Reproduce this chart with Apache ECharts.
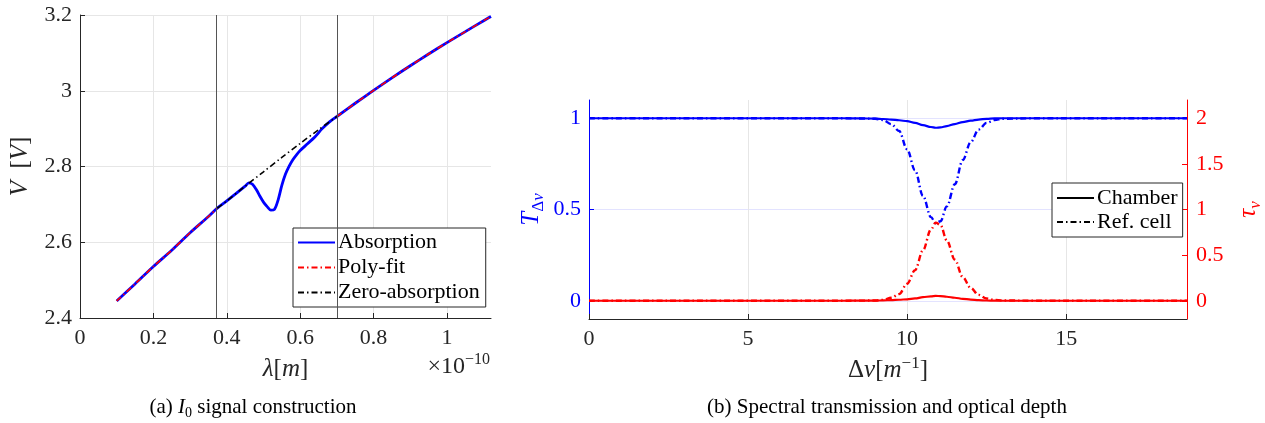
<!DOCTYPE html>
<html>
<head>
<meta charset="utf-8">
<script src="https://cdn.jsdelivr.net/npm/echarts@6.0.0/dist/echarts.min.js"></script>
<style>
  html, body { margin: 0; padding: 0; background: #fff; }
  #chart { width: 1265px; height: 423px; }
</style>
</head>
<body>
<div id="chart"></div>
<script>
// ---------- (a) I0 signal construction ----------
// wavelength in units of 1e-10 m, detector voltage in V
const lambda = [0.10, 0.15, 0.20, 0.25, 0.30, 0.35, 0.374, 0.40, 0.45,
  0.46, 0.47, 0.48, 0.49, 0.50, 0.51, 0.52, 0.53, 0.54, 0.55, 0.56, 0.57, 0.58, 0.59, 0.60,
  0.62, 0.64, 0.66, 0.68, 0.70, 0.75, 0.80, 0.85, 0.90, 0.95, 1.00, 1.05, 1.10, 1.12];
const absorptionV = [2.445, 2.490, 2.536, 2.579, 2.625, 2.668, 2.690, 2.709, 2.748,
  2.757, 2.753, 2.740, 2.722, 2.706, 2.694, 2.685, 2.687, 2.712, 2.750, 2.780, 2.801, 2.818, 2.831, 2.842,
  2.860, 2.878, 2.900, 2.918, 2.932, 2.967, 3.001, 3.034, 3.066, 3.097, 3.127, 3.156, 3.185, 3.196];

// polynomial fit, evaluated on the samples outside the absorption window
const fitLambdaLow = [0.10, 0.15, 0.20, 0.25, 0.30, 0.35, 0.374];
const fitVLow = [2.445, 2.490, 2.536, 2.579, 2.625, 2.668, 2.690];
const fitLambdaHigh = [0.70, 0.75, 0.80, 0.85, 0.90, 0.95, 1.00, 1.05, 1.10, 1.12];
const fitVHigh = [2.932, 2.967, 3.001, 3.034, 3.066, 3.097, 3.127, 3.156, 3.185, 3.196];

// fit evaluated inside the window: the zero-absorption baseline
const zeroLambda = [0.374, 0.40, 0.45, 0.50, 0.55, 0.60, 0.65, 0.70];
const zeroV = [2.690, 2.709, 2.748, 2.786, 2.824, 2.861, 2.897, 2.932];

// limits of the absorption window
const windowEdges = [0.374, 0.70];

// ---------- (b) Spectral transmission and optical depth ----------
const deltaNu = [0, 2, 4, 6, 8, 8.5, 9, 9.25, 9.5, 9.75, 10, 10.25, 10.5, 10.75, 10.9,
  11.05, 11.25, 11.5, 11.75, 12, 12.25, 12.5, 12.75, 13, 14, 16, 18.8];
const transChamber = [1, 1, 1, 1, 1, 0.999, 0.998, 0.996, 0.993, 0.989, 0.984, 0.975, 0.962, 0.952, 0.948,
  0.950, 0.957, 0.968, 0.979, 0.987, 0.993, 0.997, 0.999, 1, 1, 1, 1];
const transRefCell = [1, 1, 1, 1, 1, 0.999, 0.997, 0.990, 0.968, 0.930, 0.830, 0.715, 0.575, 0.458, 0.425,
  0.436, 0.517, 0.638, 0.771, 0.869, 0.938, 0.975, 0.990, 0.997, 1, 1, 1];
const depthChamber = [0, 0, 0, 0, 0, 0.001, 0.002, 0.004, 0.007, 0.011, 0.016, 0.025, 0.039, 0.049, 0.053,
  0.051, 0.044, 0.033, 0.021, 0.013, 0.007, 0.003, 0.001, 0, 0, 0, 0];
const depthRefCell = [0, 0, 0, 0, 0, 0.001, 0.003, 0.010, 0.033, 0.073, 0.186, 0.335, 0.553, 0.781, 0.856,
  0.830, 0.660, 0.450, 0.260, 0.140, 0.064, 0.025, 0.010, 0.003, 0, 0, 0];

const transTicks = [0, 0.5, 1];
const depthTicks = [0, 0.5, 1, 1.5, 2];

// ---------- styling ----------
const FONT = 'Liberation Serif';
const INK = '#262626';
const BLUE = '#0000ff';
const RED = '#ff0000';
const GRID_GREY = '#e6e6e6';
const DASH_DOT = [6, 3, 1.5, 3];
const NAME_SIZE = 25;

const pairs = (xs, ys) => xs.map((x, i) => [x, ys[i]]);

function mathRich(size, color) {
  const small = Math.round(size * 0.68);
  const line = size + 6;
  return {
    it: { fontFamily: FONT, fontSize: size, fontStyle: 'italic', color: color, lineHeight: line },
    up: { fontFamily: FONT, fontSize: size, color: color, lineHeight: line },
    sub: { fontFamily: FONT, fontSize: small, fontStyle: 'italic', color: color, lineHeight: small - 2, verticalAlign: 'bottom' },
    subUp: { fontFamily: FONT, fontSize: small, color: color, lineHeight: small - 2, verticalAlign: 'bottom' },
    sup: { fontFamily: FONT, fontSize: small, color: color, lineHeight: small - 2, verticalAlign: 'top' }
  };
}

const tickFont = { fontFamily: FONT, fontSize: 22 };

const legendBase = {
  orient: 'vertical',
  itemWidth: 37, itemHeight: 12, itemGap: 0,
  borderColor: INK, borderWidth: 1, borderRadius: 0, backgroundColor: '#fff',
  selectedMode: false,
  itemStyle: { opacity: 0 },
};

const chart = echarts.init(document.getElementById('chart'), null, { renderer: 'canvas' });

chart.setOption({
  animation: false,
  backgroundColor: '#fff',
  textStyle: { fontFamily: FONT },
  grid: [
    { left: 80, top: 15, width: 411, height: 303 },
    { left: 589, top: 100, width: 602, height: 219 }
  ],
  xAxis: [
    {
      gridIndex: 0, type: 'value', min: 0, max: 1.12, interval: 0.2,
      axisLine: { show: true, onZero: false, lineStyle: { color: INK, width: 1 } },
      axisTick: { show: true, inside: true, length: 5, lineStyle: { color: INK } },
      axisLabel: Object.assign({ color: INK, margin: 9, showMaxLabel: false }, tickFont),
      splitLine: { show: true, showMaxLine: false, lineStyle: { color: GRID_GREY, width: 1 } },
      name: '{it|λ}{up|[}{it|m}{up|]}', nameLocation: 'middle', nameGap: 36,
      nameTextStyle: { rich: mathRich(NAME_SIZE, INK) }
    },
    {
      gridIndex: 1, type: 'value', min: 0, max: 18.8, interval: 5,
      axisLine: { show: true, onZero: false, lineStyle: { color: INK, width: 1 } },
      axisTick: { show: true, inside: true, length: 5, lineStyle: { color: INK } },
      axisLabel: Object.assign({ color: INK, margin: 9, showMaxLabel: false }, tickFont),
      splitLine: { show: true, showMaxLine: false, lineStyle: { color: GRID_GREY, width: 1 } },
      name: '{up|Δ}{it|ν}{up|[}{it|m}{sup|−1}{up|]}', nameLocation: 'middle', nameGap: 36,
      nameTextStyle: { rich: mathRich(NAME_SIZE, INK) }
    }
  ],
  yAxis: [
    {
      gridIndex: 0, type: 'value', min: 2.4, max: 3.2, interval: 0.2,
      axisLine: { show: true, lineStyle: { color: INK, width: 1 } },
      axisTick: { show: true, inside: true, length: 5, lineStyle: { color: INK } },
      axisLabel: Object.assign({ color: INK, margin: 8 }, tickFont),
      splitLine: { show: true, lineStyle: { color: GRID_GREY, width: 1 } },
      name: '{it|V}{up|  [}{it|V}{up|]}', nameLocation: 'middle', nameRotate: 90, nameGap: 44,
      nameTextStyle: { rich: mathRich(NAME_SIZE, INK) }
    },
    {
      gridIndex: 1, type: 'value', min: -0.1, max: 1.1, position: 'left',
      axisLine: { show: true, onZero: false, lineStyle: { color: BLUE, width: 1 } },
      axisTick: { show: true, inside: true, length: 5, customValues: transTicks, lineStyle: { color: BLUE } },
      axisLabel: Object.assign({ color: BLUE, margin: 8, customValues: transTicks }, tickFont),
      splitLine: { show: true, lineStyle: { color: '#e3e3ff', width: 1 } },
      name: '{it|T}{subUp|Δ}{sub|ν}', nameLocation: 'middle', nameRotate: 90, nameGap: 42,
      nameTextStyle: { rich: mathRich(NAME_SIZE, BLUE) }
    },
    {
      gridIndex: 1, type: 'value', min: -0.2, max: 2.2, position: 'right',
      axisLine: { show: true, onZero: false, lineStyle: { color: RED, width: 1 } },
      axisTick: { show: true, inside: true, length: 5, customValues: depthTicks, lineStyle: { color: RED } },
      axisLabel: Object.assign({ color: RED, margin: 9, customValues: depthTicks }, tickFont),
      splitLine: { show: false },
      name: '{it|τ}{sub|ν}', nameLocation: 'middle', nameRotate: 90, nameGap: 46,
      nameTextStyle: { rich: mathRich(NAME_SIZE, RED) }
    }
  ],
  legend: [
    Object.assign({}, legendBase, {
      data: ['Absorption', 'Poly-fit', 'Zero-absorption'],
      left: 293, top: 228,
      padding: [2, 6, 2, 4],
      textStyle: { fontFamily: FONT, fontSize: 22, color: '#000', lineHeight: 25, padding: [0, 0, 0, -2] }
    }),
    Object.assign({}, legendBase, {
      data: ['Chamber', 'Ref. cell'],
      left: 1052, top: 183,
      padding: [3, 5, 3, 4],
      textStyle: { fontFamily: FONT, fontSize: 22, color: '#000', lineHeight: 24, padding: [0, 0, 0, -2] }
    })
  ],
  graphic: {
    elements: [
      {
        type: 'text', x: 490, y: 367, silent: true,
        style: {
          text: '{up|×10}{sup|−10}', fontFamily: FONT, fontSize: 24, fill: INK,
          align: 'right', verticalAlign: 'middle', rich: mathRich(24, INK)
        }
      },
      {
        type: 'text', x: 253, y: 407, silent: true,
        style: {
          text: '{up|(a) }{it|I}{subUp|0}{up| signal construction}', fontFamily: FONT, fontSize: 21, fill: '#000',
          align: 'center', verticalAlign: 'middle', rich: mathRich(21, '#000')
        }
      },
      {
        type: 'text', x: 887, y: 407, silent: true,
        style: {
          text: '(b) Spectral transmission and optical depth', fontFamily: FONT, fontSize: 21, fill: '#000',
          align: 'center', verticalAlign: 'middle'
        }
      }
    ]
  },
  series: [
    {
      name: 'Absorption', type: 'line', xAxisIndex: 0, yAxisIndex: 0,
      data: pairs(lambda, absorptionV), showSymbol: false, symbol: 'none', smooth: 0.3,
      color: BLUE, lineStyle: { color: BLUE, width: 2.8 }, z: 2,
      markLine: {
        silent: true, symbol: 'none', label: { show: false },
        lineStyle: { color: '#555555', width: 1, type: 'solid' },
        data: windowEdges.map(v => ({ xAxis: v }))
      }
    },
    {
      name: 'Poly-fit', type: 'line', xAxisIndex: 0, yAxisIndex: 0,
      data: pairs(fitLambdaLow, fitVLow), showSymbol: false, symbol: 'none', smooth: 0.3,
      color: RED, lineStyle: { color: RED, width: 1.6, type: DASH_DOT }, z: 3
    },
    {
      name: 'Poly-fit', type: 'line', xAxisIndex: 0, yAxisIndex: 0,
      data: pairs(fitLambdaHigh, fitVHigh), showSymbol: false, symbol: 'none', smooth: 0.3,
      color: RED, lineStyle: { color: RED, width: 1.6, type: DASH_DOT }, z: 3
    },
    {
      name: 'Zero-absorption', type: 'line', xAxisIndex: 0, yAxisIndex: 0,
      data: pairs(zeroLambda, zeroV), showSymbol: false, symbol: 'none', smooth: 0.3,
      color: '#000', lineStyle: { color: '#000', width: 1.6, type: DASH_DOT }, z: 4
    },

    // transmission (left axis, blue)
    {
      name: 'T chamber', type: 'line', xAxisIndex: 1, yAxisIndex: 1,
      data: pairs(deltaNu, transChamber), showSymbol: false, symbol: 'none',
      smooth: 0.35, smoothMonotone: 'x',
      color: BLUE, lineStyle: { color: BLUE, width: 2.2 }, z: 3
    },
    {
      name: 'T ref. cell', type: 'line', xAxisIndex: 1, yAxisIndex: 1,
      data: pairs(deltaNu, transRefCell), showSymbol: false, symbol: 'none',
      smooth: 0.35, smoothMonotone: 'x',
      color: BLUE, lineStyle: { color: BLUE, width: 2.4, type: DASH_DOT }, z: 3
    },
    // optical depth (right axis, red)
    {
      name: 'tau chamber', type: 'line', xAxisIndex: 1, yAxisIndex: 2,
      data: pairs(deltaNu, depthChamber), showSymbol: false, symbol: 'none',
      smooth: 0.35, smoothMonotone: 'x',
      color: RED, lineStyle: { color: RED, width: 2.2 }, z: 3
    },
    {
      name: 'tau ref. cell', type: 'line', xAxisIndex: 1, yAxisIndex: 2,
      data: pairs(deltaNu, depthRefCell), showSymbol: false, symbol: 'none',
      smooth: 0.35, smoothMonotone: 'x',
      color: RED, lineStyle: { color: RED, width: 2.4, type: DASH_DOT }, z: 3
    },
    // legend keys for the line styles of panel (b)
    {
      name: 'Chamber', type: 'line', xAxisIndex: 1, yAxisIndex: 1, data: [],
      showSymbol: false, symbol: 'none', color: '#000', lineStyle: { color: '#000', width: 1.2 }
    },
    {
      name: 'Ref. cell', type: 'line', xAxisIndex: 1, yAxisIndex: 1, data: [],
      showSymbol: false, symbol: 'none', color: '#000', lineStyle: { color: '#000', width: 1.2, type: DASH_DOT }
    }
  ]
});
</script>
</body>
</html>
